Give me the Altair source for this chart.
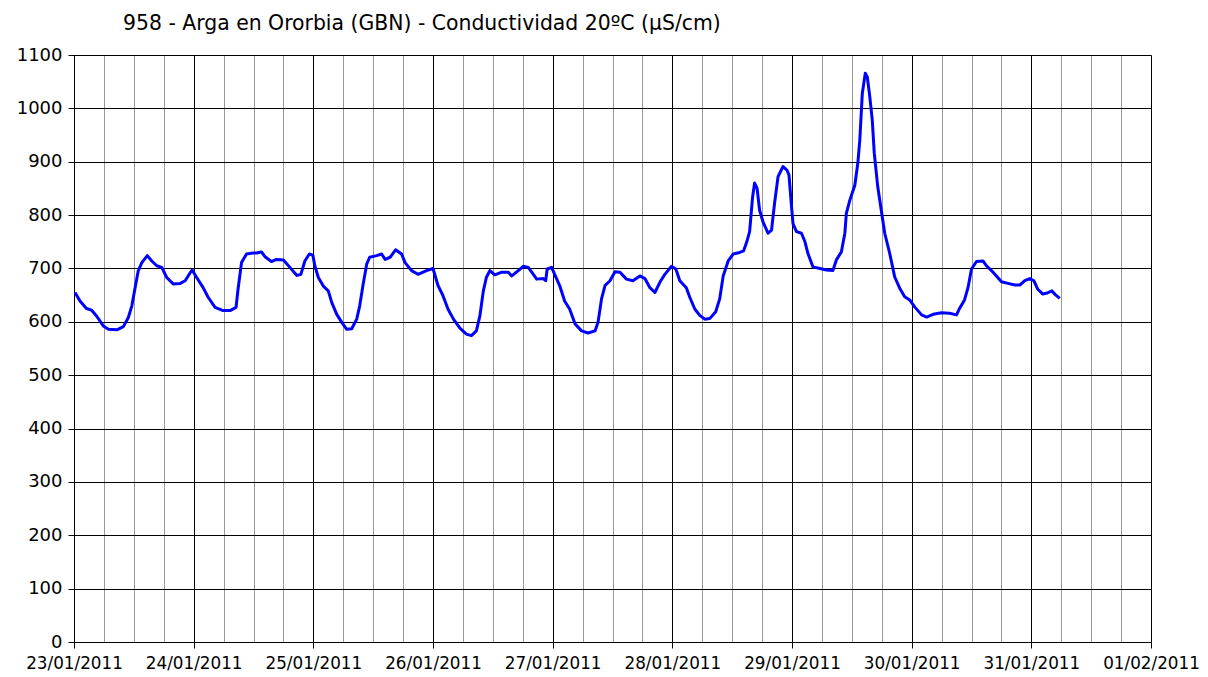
import altair as alt
import pandas as pd

# hours since 23/01/2011 00:00
hours = [0.2, 1.2, 2.5, 3.5, 4.6, 5.9, 6.9, 8.6, 9.9, 10.9, 11.6, 12.2, 12.9, 13.6, 14.7, 15.6, 16.6, 17.6, 18.6, 19.9,
         21.3, 22.3, 23.3, 23.7, 24.6, 25.9, 26.9, 28.3, 29.9, 31.3, 32.5, 32.9, 33.6, 34.6, 35.9,
         36.6, 37.6, 38.3, 39.6, 40.6, 42.0, 43.3, 44.7, 45.5, 46.3, 47.2, 47.9, 48.3, 49.0, 50.0, 51.0, 51.7, 52.7,
         53.7, 54.7, 55.7, 56.7, 57.3, 58.0, 58.7, 59.3, 60.7, 61.7, 62.4, 63.4, 64.5, 65.7, 66.4, 67.7, 69.0, 70.7, 72.0,
         73.0, 74.0, 75.0, 76.1, 77.4, 78.7, 79.7, 80.7, 81.4, 82.1, 82.7, 83.4, 84.4, 85.8, 87.1, 87.8, 89.1, 90.1,
         91.1, 91.8, 92.8, 94.1, 94.6, 94.9, 95.8, 96.4, 97.4, 98.4, 99.4, 100.5, 101.8, 103.1, 104.5, 105.1, 105.8,
         106.5, 107.5,
         108.5, 109.5, 110.8, 112.1, 113.5, 114.5, 115.5, 116.5, 117.5, 118.5, 119.8, 120.7, 121.5, 122.8, 123.5,
         124.5, 125.5, 126.5, 127.5, 128.7, 129.5, 130.2, 131.2, 132.2, 133.5, 134.3, 134.9,
         135.5, 136.1, 136.5, 137.0, 137.5, 138.2, 139.2, 139.9, 140.5, 141.2, 142.2, 143.0, 143.4, 143.8, 144.2,
         144.9, 145.9, 146.6, 147.2, 148.2, 149.6, 150.9, 152.2, 152.9, 153.9, 154.6, 154.9, 155.6, 156.6, 157.2,
         157.6, 158.1, 158.7, 159.1, 159.6, 160.1, 160.5, 161.2, 162.0, 162.6, 163.6, 164.6, 165.6, 166.6, 167.6,
         168.6, 170.0, 171.0, 172.3, 174.0, 175.6, 177.0, 177.6, 178.6, 179.3, 180.0, 181.0, 182.3, 183.0, 184.0,
         185.0, 186.0, 187.3, 188.7, 189.7, 190.7, 191.7, 192.5, 193.3, 194.3, 195.2, 196.1, 196.8, 197.7]

conductividad = [655, 639, 625, 622, 610, 592, 586, 585, 591, 608, 630, 661, 696, 711, 724, 714, 705, 702, 683, 671,
                 672, 677, 692, 697, 683, 664, 646, 627, 621, 621, 627, 661, 711, 727, 729,
                 729, 731, 722, 713, 717, 716, 702, 687, 689, 714, 727, 725, 705, 683, 667, 658, 636, 614,
                 599, 586, 587, 605, 630, 671, 708, 721, 724, 727, 717, 721, 735, 727, 711, 696, 689, 696, 700,
                 668, 649, 624, 605, 588, 577, 574, 583, 611, 658, 683, 696, 688, 693, 693, 686, 696, 704,
                 702, 693, 680, 681, 677, 699, 702, 689, 668, 639, 624, 596, 583, 579, 583, 599, 643,
                 668, 677,
                 694, 693, 680, 677, 686, 681, 664, 655, 674, 689, 704, 699, 677, 664, 646,
                 624, 612, 605, 606, 619, 643, 686, 714, 727, 730, 733, 749,
                 769, 834, 860, 850, 809, 787, 766, 772, 822, 872, 891, 884, 875, 828, 784,
                 769, 766, 750, 728, 703, 700, 697, 696, 716, 731, 766, 803, 828, 856, 897,
                 941, 1028, 1066, 1059, 1022, 978, 916, 853, 803, 766, 728, 684, 663, 647, 641,
                 628, 613, 609, 614, 617, 616, 613, 625, 641, 664, 699, 713, 714, 705, 696,
                 686, 675, 672, 669, 669, 677, 681, 677, 661, 652, 654, 658, 651, 644]

y_ticks = list(range(0, 1101, 100))
start = pd.Timestamp("2011-01-23T00:00:00Z")
end = pd.Timestamp("2011-02-01T00:00:00Z")

df = pd.DataFrame({
    "t": [(start + pd.Timedelta(hours=h)).strftime("%Y-%m-%dT%H:%M:%SZ") for h in hours],
    "v": conductividad,
})

grid_ms = [int((start + pd.Timedelta(hours=6 * i)).value // 10**6) for i in range(0, 37)]
is_day = "utchours(datum.value) == 0"

x_axis = alt.Axis(
    values=grid_ms,
    labelExpr=f"{is_day} ? utcFormat(datum.value, '%d/%m/%Y') : ''",
    grid=True,
    gridColor=alt.condition(is_day, alt.value("#000000"), alt.value("#999999")),
    gridWidth=1,
    tickColor="#000000",
    tickOpacity=alt.condition(is_day, alt.value(1), alt.value(0)),
    tickSize=6,
    domainColor="#000000",
    labelFont="DejaVu Sans",
    labelFontSize=16.8,
    labelColor="#000000",
    labelPadding=7,
    labelFlush=False,
    labelOverlap=False,
    title=None,
)

y_axis = alt.Axis(
    values=y_ticks,
    format="d",
    grid=True,
    gridColor="#000000",
    gridWidth=1,
    tickColor="#000000",
    tickSize=6,
    domainColor="#000000",
    labelFont="DejaVu Sans",
    labelFontSize=18,
    labelColor="#000000",
    labelPadding=6,
    title=None,
)

chart = alt.Chart(df).mark_line(color="#0000ff", strokeWidth=3, strokeJoin="round").encode(
    x=alt.X("t:T", scale=alt.Scale(type="utc", domain=[start.isoformat().replace("+00:00", "Z"),
                                                      end.isoformat().replace("+00:00", "Z")], nice=False),
            axis=x_axis),
    y=alt.Y("v:Q", scale=alt.Scale(domain=[0, 1100], nice=False), axis=y_axis),
).properties(
    width=1077,
    height=587,
    title=alt.TitleParams(
        "958 - Arga en Ororbia (GBN) - Conductividad 20ºC (µS/cm)",
        anchor="start",
        frame="group",
        dx=49,
        offset=12,
        font="DejaVu Sans",
        fontSize=20.4,
        fontWeight="normal",
        color="#000000",
    ),
    autosize=alt.AutoSizeParams(type="none"),
    padding={"left": 66, "top": 47, "right": 49, "bottom": 32},
).configure_view(
    fill="#ccffff",
    stroke="#a0a0a0",
    strokeWidth=1,
).configure(background="#ffffff")

chart.save("out.html", embed_options={"renderer": "svg", "actions": False})
